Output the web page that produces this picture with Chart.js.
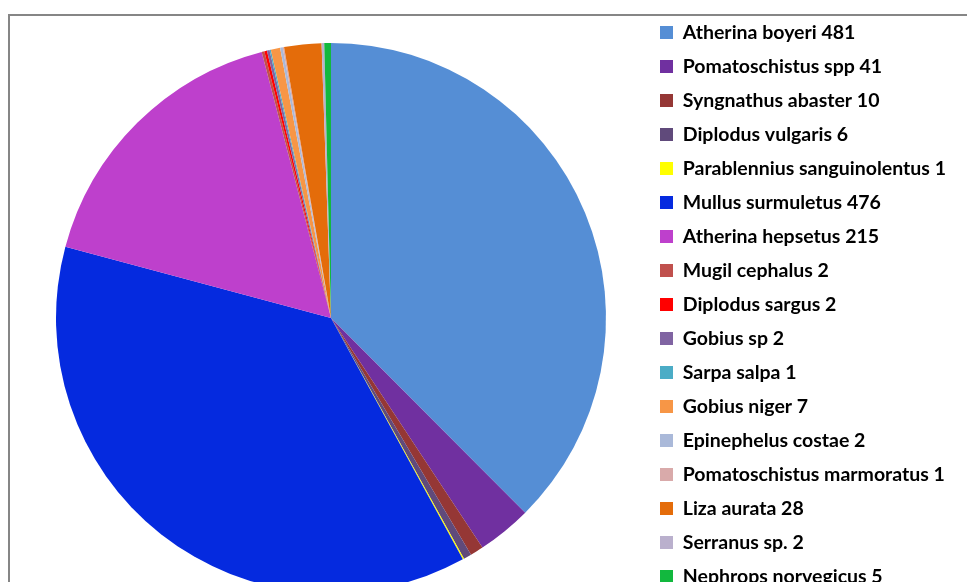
<!DOCTYPE html>
<html>
<head>
<meta charset="utf-8">
<script src="https://cdn.jsdelivr.net/npm/chart.js@4"></script>
<style>
  html, body { margin: 0; padding: 0; width: 967px; height: 582px; overflow: hidden; background: #fff; }
  #frame { position: absolute; left: 8px; top: 14px; width: 1000px; height: 600px; border-top: 2px solid #868686; border-left: 2px solid #868686; }
  #wrap { position: absolute; left: 0; top: 0; width: 1000px; height: 640px; }
</style>
</head>
<body>
<div id="frame"></div>
<div id="wrap"><canvas id="c" width="1000" height="640"></canvas></div>
<script>
const species = [
  "Atherina boyeri", "Pomatoschistus spp", "Syngnathus abaster", "Diplodus vulgaris",
  "Parablennius sanguinolentus", "Mullus surmuletus", "Atherina hepsetus", "Mugil cephalus",
  "Diplodus sargus", "Gobius sp", "Sarpa salpa", "Gobius niger", "Epinephelus costae",
  "Pomatoschistus marmoratus", "Liza aurata", "Serranus sp.", "Nephrops norvegicus"
];
const counts = [481, 41, 10, 6, 1, 476, 215, 2, 2, 2, 1, 7, 2, 1, 28, 2, 5];
const colors = [
  "#558ED5", "#7030A0", "#953735", "#604A7B", "#FFFF00", "#052ADF", "#BE40CC", "#C0504D",
  "#FF0000", "#8064A2", "#4BACC6", "#F79646", "#AAB9D9", "#D9AAAA", "#E46C0A", "#BAB0CD", "#12B83E"
];
const labels = species.map((s, i) => s + " " + counts[i]);

const W = 1000, H = 640;
const fontSize = 19.5, fontFamily = "Lato", fontWeight = "bold";
const boxSize = 13, rowStep = 34;
const legendPad = rowStep - Math.max(fontSize, boxSize);

// measure widest legend text to place legend boxes at x=660
const mctx = document.createElement("canvas").getContext("2d");
mctx.font = fontWeight + " " + fontSize + "px " + fontFamily;
const maxTextW = Math.max(...labels.map(t => mctx.measureText(t).width));
const itemW = boxSize + fontSize / 2 + maxTextW;
const padRight = W - 670 - itemW;
const legendLeft = 660 - legendPad;
const padLeft = 2 * 331 - legendLeft;
const padTop = 32.5 - legendPad - Math.max(fontSize, boxSize) / 2;
const padBottom = H - (2 * 318 - padTop);

new Chart(document.getElementById("c"), {
  type: "pie",
  data: {
    labels: labels,
    datasets: [{
      data: counts,
      backgroundColor: colors,
      borderWidth: 0,
      radius: 275
    }]
  },
  options: {
    responsive: false,
    animation: false,
    layout: { padding: { left: padLeft, right: padRight, top: padTop, bottom: padBottom } },
    plugins: {
      tooltip: { enabled: false },
      legend: {
        position: "right",
        align: "start",
        labels: {
          boxWidth: boxSize,
          boxHeight: boxSize,
          padding: legendPad,
          color: "#000",
          font: { family: fontFamily, size: fontSize, weight: fontWeight }
        }
      }
    }
  }
});
</script>
</body>
</html>
